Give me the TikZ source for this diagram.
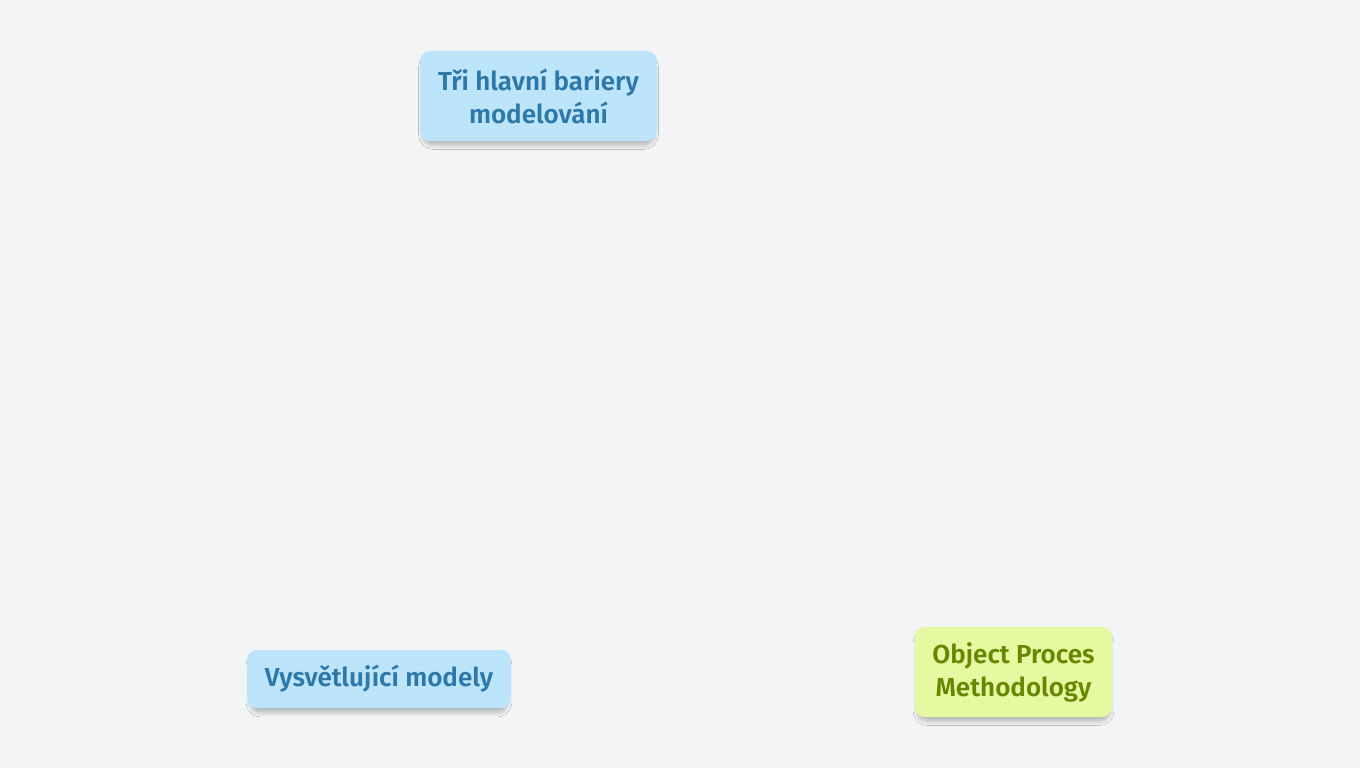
\documentclass[tikz,border=0pt]{standalone}
\usepackage{fontspec}
\setmainfont{Fira Sans}[BoldFont={Fira Sans SemiBold}]
\usetikzlibrary{shadows.blur}
\definecolor{bg}{HTML}{F2F4F6}
\definecolor{bluefill}{HTML}{BCE5FC}
\definecolor{bluetext}{HTML}{2D78A8}
\definecolor{greenfill}{HTML}{E6F8A0}
\definecolor{greentext}{HTML}{668800}
\definecolor{shadowcol}{HTML}{5A6E80}
\tikzset{
  box/.style={rounded corners=10pt, align=center, inner sep=0pt,
    font=\fontsize{26}{33}\selectfont\bfseries,
    blur shadow={shadow xshift=0pt, shadow yshift=-5pt, shadow blur radius=5pt,
      shadow scale=0.97, shadow blur steps=10, shadow opacity=30,
      shadow blur extra rounding=0pt, fill=shadowcol}},
  bluebox/.style={box, fill=bluefill, text=bluetext},
  greenbox/.style={box, fill=greenfill, text=greentext},
}
\begin{document}
\begin{tikzpicture}[x=1pt,y=-1pt]
\useasboundingbox[fill=bg] (0,0) rectangle (1360,768);
\node[bluebox, minimum width=237pt, minimum height=90pt] (bariery) at (538.5,96) {Tři hlavní bariery\\modelování};
\node[bluebox, minimum width=264pt, minimum height=58pt] (modely) at (379,679) {Vysvětlující modely};
\node[greenbox, minimum width=197pt, minimum height=90pt] (opm) at (1013.5,672) {Object Proces\\Methodology};
\end{tikzpicture}
\end{document}
